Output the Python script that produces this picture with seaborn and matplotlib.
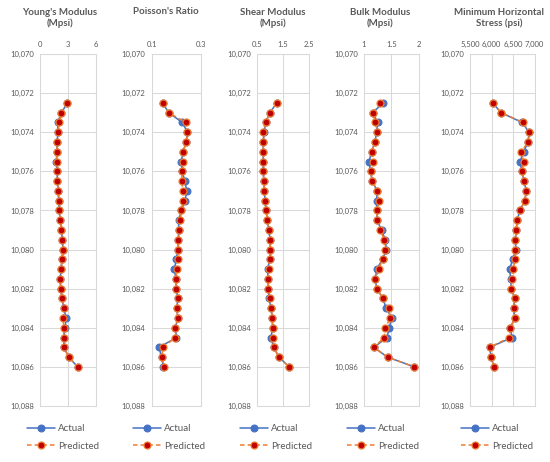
import numpy as np
import pandas as pd
import matplotlib
matplotlib.use("Agg")
import matplotlib.pyplot as plt
import seaborn as sns

# depth (ft) of each sample
depth = [10072.5, 10073.0, 10073.5, 10074.0, 10074.5, 10075.0, 10075.5, 10076.0,
         10076.5, 10077.0, 10077.5, 10078.0, 10078.5, 10079.0, 10079.5, 10080.0,
         10080.5, 10081.0, 10081.5, 10082.0, 10082.5, 10083.0, 10083.5, 10084.0,
         10084.5, 10085.0, 10085.5, 10086.0]

# Young's modulus (Mpsi)
ym_actual = [2.93, 2.30, 1.90, 1.90, 1.85, 1.80, 1.75, 1.85, 1.85, 1.97, 2.00, 2.07, 2.15, 2.30,
             2.40, 2.46, 2.36, 2.25, 2.18, 2.20, 2.36, 2.54, 2.79, 2.70, 2.54, 2.57, 3.07, 4.04]
ym_pred = [2.93, 2.30, 2.07, 1.90, 1.85, 1.80, 1.80, 1.85, 1.85, 1.95, 2.00, 2.07, 2.15, 2.30,
           2.40, 2.46, 2.36, 2.25, 2.18, 2.20, 2.36, 2.54, 2.50, 2.54, 2.54, 2.57, 3.07, 4.04]

# Poisson's ratio
pr_actual = [0.145, 0.169, 0.225, 0.246, 0.241, 0.228, 0.221, 0.225, 0.235, 0.243, 0.236, 0.221, 0.210, 0.210,
             0.209, 0.207, 0.200, 0.193, 0.198, 0.201, 0.206, 0.203, 0.206, 0.197, 0.201, 0.130, 0.140, 0.148]
pr_pred = [0.145, 0.169, 0.239, 0.246, 0.241, 0.228, 0.229, 0.225, 0.222, 0.228, 0.228, 0.221, 0.217, 0.210,
           0.209, 0.207, 0.206, 0.203, 0.198, 0.201, 0.206, 0.203, 0.206, 0.197, 0.197, 0.145, 0.142, 0.150]

# shear modulus (Mpsi)
sm_actual = [1.25, 0.99, 0.82, 0.77, 0.73, 0.73, 0.73, 0.73, 0.75, 0.77, 0.80, 0.84, 0.89, 0.94,
             1.00, 1.00, 0.98, 0.90, 0.91, 0.93, 0.95, 1.03, 1.08, 1.09, 1.03, 1.13, 1.34, 1.73]
sm_pred = [1.25, 0.99, 0.82, 0.71, 0.73, 0.73, 0.73, 0.73, 0.75, 0.77, 0.80, 0.84, 0.89, 0.94,
           1.00, 1.00, 0.98, 0.94, 0.91, 0.93, 0.99, 1.03, 1.08, 1.09, 1.11, 1.13, 1.34, 1.73]

# bulk modulus (Mpsi)
bm_actual = [1.35, 1.16, 1.25, 1.23, 1.20, 1.14, 1.09, 1.12, 1.15, 1.24, 1.23, 1.23, 1.24, 1.32,
             1.39, 1.41, 1.34, 1.23, 1.21, 1.23, 1.35, 1.40, 1.51, 1.46, 1.42, 1.18, 1.43, 1.92]
bm_pred = [1.30, 1.16, 1.21, 1.23, 1.20, 1.14, 1.17, 1.12, 1.15, 1.24, 1.27, 1.23, 1.24, 1.30,
           1.37, 1.38, 1.34, 1.27, 1.21, 1.23, 1.35, 1.45, 1.48, 1.39, 1.37, 1.18, 1.43, 1.92]

# minimum horizontal stress (psi)
sh_actual = [6026, 6219, 6707, 6870, 6846, 6745, 6660, 6699, 6753, 6807, 6768, 6660, 6590, 6575,
             6551, 6567, 6490, 6420, 6440, 6459, 6536, 6513, 6536, 6436, 6474, 5956, 5987, 6057]
sh_pred = [6026, 6219, 6730, 6877, 6846, 6683, 6745, 6699, 6753, 6807, 6768, 6660, 6590, 6575,
           6551, 6551, 6544, 6505, 6467, 6459, 6536, 6513, 6536, 6436, 6413, 5956, 5987, 6057]

BLUE = "#4472C4"
ORANGE = "#ED7D31"
RED = "#C00000"
GRAY = "#595959"
GRID = "#D9D9D9"

sns.set_style("white")
plt.rcParams["font.family"] = ["Lato", "DejaVu Sans"]

W, H = 550, 462
fig = plt.figure(figsize=(W / 100, H / 100), dpi=100)

panels = [
    ("Young's Modulus\n(Mpsi)", ym_actual, ym_pred, (0, 6), [0, 3, 6], "{:g}", (40, 96), 60, 27),
    ("Poisson's Ratio", pr_actual, pr_pred, (0.1, 0.3), [0.1, 0.3], "{:g}", (151.7, 200.7), 166, 133),
    ("Shear Modulus\n(Mpsi)", sm_actual, sm_pred, (0.5, 2.5), [0.5, 1.5, 2.5], "{:g}", (257.3, 309), 273, 240),
    ("Bulk Modulus\n(Mpsi)", bm_actual, bm_pred, (1, 2), [1, 1.5, 2], "{:g}", (364, 418.7), 380, 347),
    ("Minimum Horizontal\nStress (psi)", sh_actual, sh_pred, (5500, 7000), [5500, 6000, 6500, 7000], "{:,.0f}",
     (470, 534.7), 499, 461),
]

top_px, bot_px = 54, 406

for title, act, pred, lim, ticks, fmt, (x0, x1), tx, lx in panels:
    ax = fig.add_axes([x0 / W, 1 - bot_px / H, (x1 - x0) / W, (bot_px - top_px) / H])
    df = pd.DataFrame({"depth": depth, "Actual": act, "Predicted": pred})

    sns.lineplot(data=df, x="Actual", y="depth", sort=False, estimator=None, ax=ax,
                 color=BLUE, lw=1.1, marker="o", ms=5, mfc=BLUE, mec=BLUE, label="Actual")
    sns.lineplot(data=df, x="Predicted", y="depth", sort=False, estimator=None, ax=ax,
                 color=ORANGE, lw=1.1, ls=(0, (3, 2)), marker="o", ms=5, mfc=RED, mec=ORANGE,
                 mew=0.9, label="Predicted")

    ax.set_xlim(*lim)
    ax.set_ylim(10088, 10070)
    ax.set_xticks(ticks)
    ax.set_xticklabels([fmt.format(t) for t in ticks])
    ax.set_yticks(range(10070, 10089, 2))
    ax.set_yticklabels([f"{d:,}" for d in range(10070, 10089, 2)])
    ax.xaxis.tick_top()
    ax.set_xlabel("")
    ax.set_ylabel("")
    ax.grid(True, color=GRID, lw=0.75)
    ax.set_axisbelow(True)
    for sp in ax.spines.values():
        sp.set_color(GRID)
        sp.set_linewidth(0.75)
    ax.tick_params(axis="both", length=0, labelsize=5.5, colors=GRAY)
    ax.tick_params(axis="x", pad=4.5)
    ax.tick_params(axis="y", pad=4.5)

    ty = 18 if "\n" in title else 12
    fig.text(tx / W, 1 - ty / H, title, ha="center", va="center", fontsize=7,
             fontweight="bold", color=GRAY, linespacing=1.25)

    ax.legend(loc="upper left", bbox_to_anchor=(lx / W, 1 - 424 / H), bbox_transform=fig.transFigure,
              frameon=False, fontsize=7, labelcolor=GRAY, handlelength=2.9, handletextpad=0.3,
              labelspacing=0.9, borderpad=0, borderaxespad=0)

fig.savefig("out.png", dpi=100, facecolor="white")
